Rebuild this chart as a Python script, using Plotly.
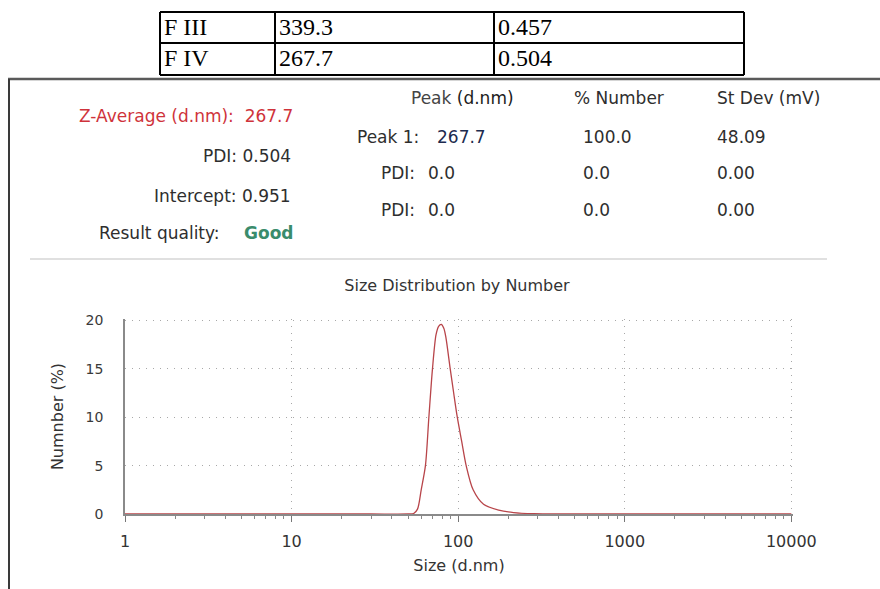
import plotly.graph_objects as go

# ---------------- data ----------------
table_rows = [["F III", "339.3", "0.457"], ["F IV", "267.7", "0.504"]]

sizes_nm = [1, 10, 30, 50, 54, 57, 60, 63.6, 66.7, 70.1, 73.6, 76.3, 79.2, 82,
            84.3, 89.6, 94, 98.8, 105, 111.7, 123, 142, 175, 215, 285, 430,
            1000, 10000]
number_pct = [0, 0, 0, 0, 0.05, 0.5, 2.5, 5.0, 10.0, 15.0, 18.5, 19.4, 19.6,
              19.2, 18.3, 15.0, 12.5, 10.0, 7.5, 5.0, 2.5, 1.0, 0.4, 0.15,
              0.03, 0, 0, 0]

x_tickvals = [1, 10, 100, 1000, 10000]
x_ticktext = ["1", "10", "100", "1000", "10000"]
x_minor = [m * 10 ** d for d in range(4) for m in range(2, 10)]
y_tickvals = [0, 5, 10, 15, 20]

summary_left = [("PDI: 0.504", 156), ("Intercept: 0.951", 196)]
peak_headers = [("% Number", 572), ("St Dev (mV)", 715)]
peak_rows = [("Peak 1:", "267.7", "100.0", "48.09", 137),
             ("PDI:", "0.0", "0.0", "0.00", 173),
             ("PDI:", "0.0", "0.0", "0.00", 210)]

# ---------------- layout geometry (pixels) ----------------
W, H = 880, 589
L, R, T, B = 125, 87, 319, 75
PW, PH = W - L - R, H - T - B


def px(x):
    return (x - L) / PW


def py(y):
    return (H - B - y) / PH


SANS = "DejaVu Sans"
TXT = "#2e2e2e"

fig = go.Figure()
fig.add_trace(go.Scatter(
    x=sizes_nm, y=number_pct, mode="lines",
    line=dict(color="#b8454a", width=1.3, shape="spline", smoothing=0.8),
    showlegend=False, hoverinfo="x+y"))

ann = []
shapes = []


def text(s, x, y, anchor="left", size=17, color=TXT, family=SANS):
    ann.append(dict(text=s, x=px(x), y=py(y), xref="paper", yref="paper",
                    xanchor=anchor, yanchor="middle", showarrow=False,
                    font=dict(family=family, size=size, color=color)))


def line(x0, y0, x1, y1, color, width):
    shapes.append(dict(type="line", xref="paper", yref="paper",
                       x0=px(x0), y0=py(y0), x1=px(x1), y1=py(y1),
                       line=dict(color=color, width=width)))


# ---- top table ----
tx = [160, 275, 494, 744]
ty = [12, 43, 75]
for y in ty:
    line(tx[0], y, tx[-1], y, "black", 2)
for x in tx:
    line(x, ty[0], x, ty[-1], "black", 2)
for r, row in enumerate(table_rows):
    yc = (ty[r] + ty[r + 1]) / 2 - 1
    for c, cell in enumerate(row):
        text(cell, tx[c] + 2, yc, size=24, color="black", family="Liberation Serif")

# ---- report frame ----
line(8, 79, 880, 79, "#5a5a5a", 2.5)
line(9, 79, 9, 589, "#3a3a3a", 2)

# ---- summary block ----
text("Z-Average (d.nm):  267.7", 295, 116, anchor="right", color="#cf333b")
for s, y in summary_left:
    text(s, 293, y, anchor="right")
text("Result quality:", 222, 233, anchor="right")
text("<b>Good</b>", 242, 233, color="#3a8c6c")

text("Peak <span style='color:#1c1c1c'>(d.nm)</span>", 409, 98, color="#444")
for s, x in peak_headers:
    text(s, x, 98)
for lab, v1, v2, v3, y in peak_rows:
    text(lab, 421 if lab.startswith("Peak") else 417, y, anchor="right")
    text(v1, 435 if lab.startswith("Peak") else 426, y,
         color="#1d2b4f" if lab.startswith("Peak") else TXT)
    text(v2, 581, y)
    text(v3, 715, y)

line(30, 259, 827, 259, "#d6d6d6", 1.5)

fig.update_layout(
    width=W, height=H,
    margin=dict(l=L, r=R, t=T, b=B, pad=0),
    paper_bgcolor="white", plot_bgcolor="white",
    title=dict(text="Size Distribution by Number", x=457 / W, y=1 - 285 / H,
               xref="container", yref="container",
               xanchor="center", yanchor="middle",
               font=dict(family=SANS, size=16, color="#333")),
    annotations=ann, shapes=shapes, showlegend=False,
    xaxis=dict(type="log", range=[0, 4.01], tickmode="array",
               tickvals=x_tickvals, ticktext=x_ticktext,
               ticks="outside", ticklen=6, tickwidth=1.2, tickcolor="#777",
               showline=True, linecolor="#8a8a8a", linewidth=1.5,
               showgrid=True, gridcolor="#a8a8a8", griddash="1px,6px",
               gridwidth=1.2, zeroline=False, automargin=False,
               ticklabelstandoff=6,
               minor=dict(tickmode="array", tickvals=x_minor, ticks="outside",
                          ticklen=3, tickwidth=1, tickcolor="#888",
                          showgrid=False),
               tickfont=dict(family=SANS, size=16, color="#333"),
               title=dict(text="Size (d.nm)", standoff=10,
                          font=dict(family=SANS, size=16, color="#333"))),
    yaxis=dict(range=[0, 20.15], tickmode="array", tickvals=y_tickvals,
               ticks="", showline=True, linecolor="#8a8a8a", linewidth=1.5,
               showgrid=True, gridcolor="#a8a8a8", griddash="1px,6px",
               gridwidth=1.2, zeroline=False, automargin=False,
               ticklabelstandoff=17,
               tickfont=dict(family=SANS, size=14, color="#3a3a3a"),
               title=dict(text="Numnber (%)", standoff=18,
                          font=dict(family=SANS, size=16, color="#333"))),
)

fig.write_html("out.html")
